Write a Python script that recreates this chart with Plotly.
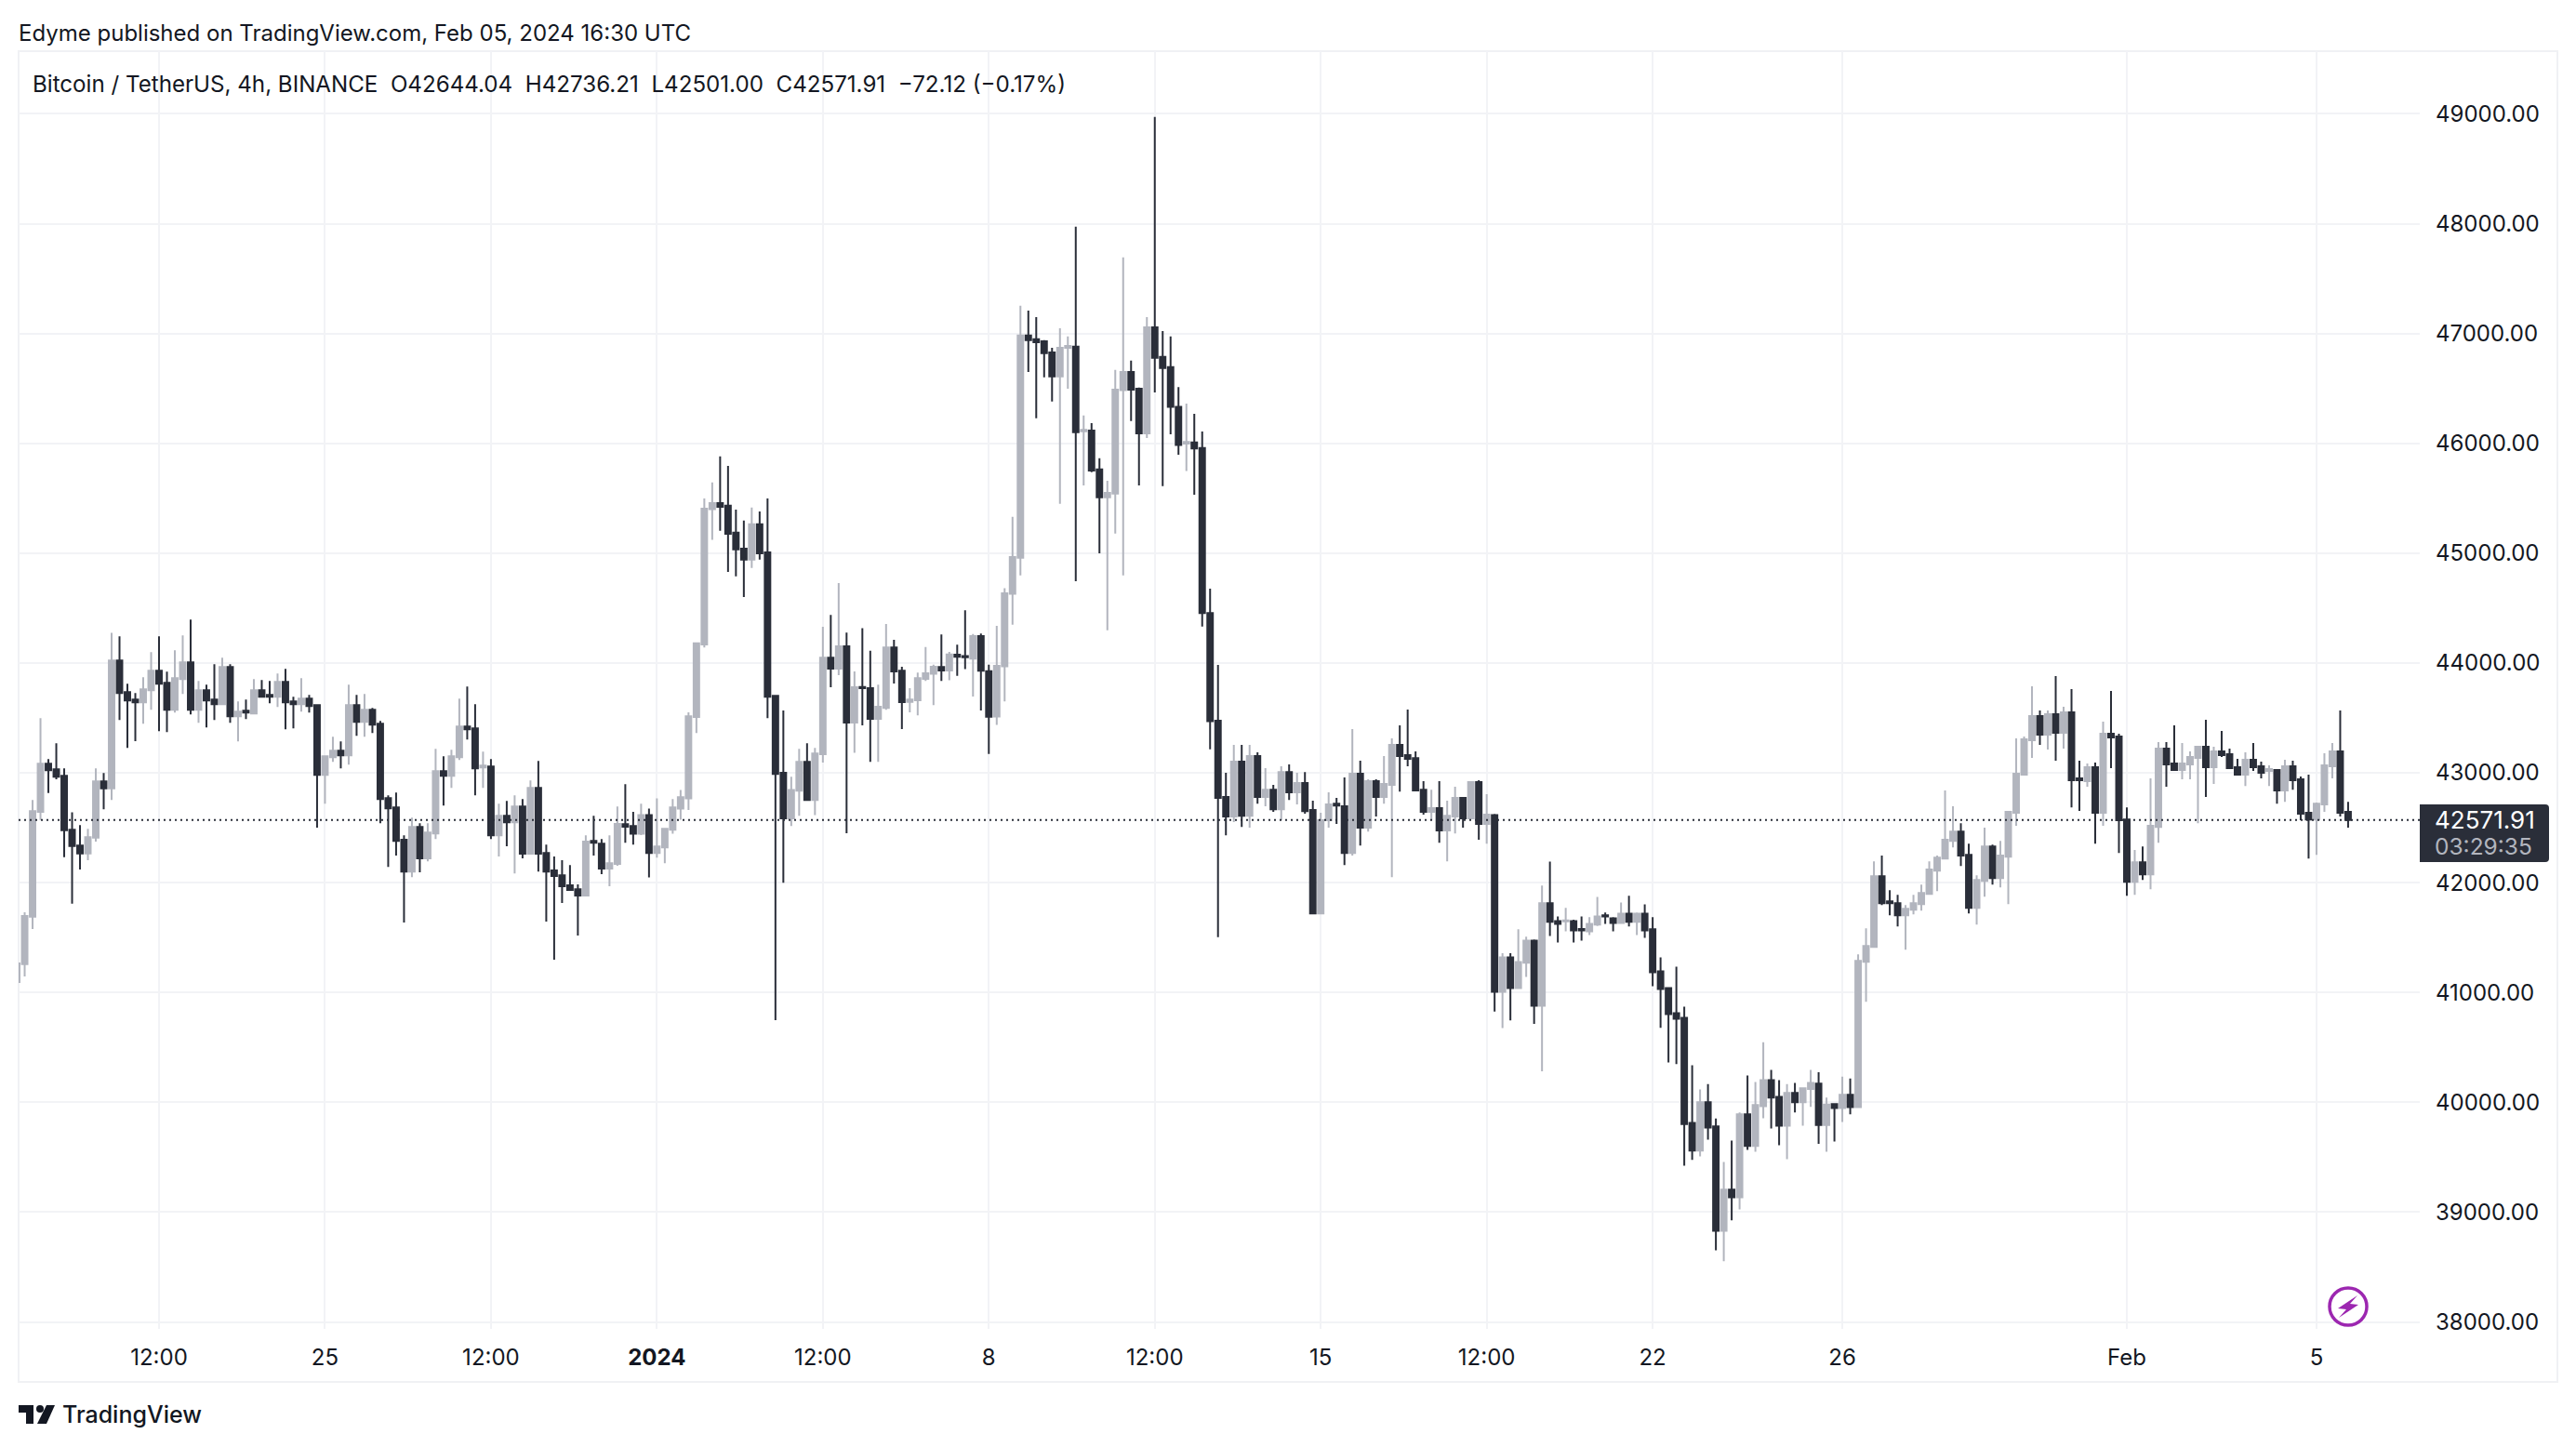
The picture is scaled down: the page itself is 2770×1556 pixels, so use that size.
from datetime import datetime, timedelta
import plotly.graph_objects as go

START = datetime(2023, 12, 18, 12, 0)
opens = [
41095,41259,41690,42646,43084,43033,42974,42483,42339,42266,
42410,42923,42858,44023,43735,43667,43642,43752,43930,43820,
43574,43853,44006,43574,43752,43667,43625,43963,43515,43566,
43540,43752,43710,43693,43828,43650,43625,43676,43616,42982,
43143,43202,43160,43616,43464,43574,43447,42770,42686,42390,
42102,42508,42221,42449,43016,42974,43143,43422,43405,43050,
43058,42432,42610,42550,42694,42263,42864,42271,42111,42068,
41975,41941,41882,42381,42356,42128,42170,42533,42516,42446,
42616,42270,42322,42481,42675,42768,43509,44170,45401,45457,
45432,45187,45041,44941,45263,45007,43702,43000,42585,42837,
43100,42754,43170,44048,43948,44152,43457,43782,43772,43491,
43592,44142,43931,43647,43661,43855,43903,43963,43933,44075,
44063,44041,44246,43925,43512,43970,44630,44958,46982,46948,
46929,46829,46609,46870,46881,46110,46117,45763,45509,45543,
46486,46650,46497,46091,47056,46788,46695,46333,45998,46009,
45957,44455,43475,42780,42602,43102,42610,43152,42780,42847,
42669,43008,42822,42907,42661,41720,42568,42720,42695,42271,
42992,42500,42924,42780,42890,43254,43161,43135,42847,42644,
42678,42475,42602,42771,42585,42915,42534,42616,41006,41320,
41041,41271,41472,40879,41812,41650,41647,41650,41579,41556,
41618,41702,41676,41634,41718,41644,41718,41576,41193,41041,
40811,40769,39813,39560,40001,39781,38831,39204,39136,39891,
39602,39965,40202,40050,39787,40085,40001,40121,40171,39794,
39983,39949,40068,39957,41280,41415,42059,41830,41813,41703,
41754,41805,41898,42110,42220,42381,42466,42254,41771,42017,
42330,42042,42237,42636,42983,43297,43517,43347,43534,43364,
43551,42949,42924,43051,42636,43356,43331,42576,42008,42186,
42076,42508,43220,43085,43025,43076,43136,43237,43051,43195,
43170,43051,42983,43119,43059,43017,43025,42839,43059,42941,
42636,42576,42712,43059,43195,42644.04]
highs = [
41265,41730,42754,43498,43126,43270,43041,42641,42525,42491,
43041,42999,44276,44243,43811,43726,43870,44099,44243,43921,
44116,44251,44395,43836,43803,43989,44048,43989,43650,43667,
43853,43845,43836,43904,43946,43693,43862,43710,43616,43160,
43329,43287,43803,43710,43718,43591,43473,42796,42821,42432,
42593,42542,42542,43219,43151,43210,43676,43786,43625,43193,
43126,42720,42745,42796,42762,42931,43109,42347,42238,42204,
42161,41984,42432,42610,42398,42432,42694,42896,42644,42720,
42675,42768,42498,42761,42844,43550,44187,45498,45644,45882,
45796,45398,45298,45415,45381,45498,43709,43568,42965,43218,
43270,43228,44329,44439,44727,44277,43924,44318,44111,43803,
44356,44211,43965,43772,43914,44145,43985,44261,44101,44168,
44481,44265,44268,43985,44339,44682,45331,47254,47209,47149,
46941,46870,47049,46974,47973,46255,46184,45864,45659,46669,
47693,46754,46508,47149,48972,47023,46974,46512,46363,46270,
46109,44678,43983,43000,43254,43254,43254,43186,43042,42890,
43059,43076,43000,43008,42746,42636,42822,42771,42958,43398,
43110,42941,42941,43152,43314,43432,43576,43195,42924,42847,
42924,42746,42873,42780,42924,42932,42805,42625,41357,41358,
41576,41508,41482,41974,42191,41692,41770,41663,41692,41686,
41870,41728,41686,41819,41880,41728,41802,41686,41320,41041,
41235,40872,40338,40118,40166,39852,39457,39651,39907,40244,
40186,40548,40296,40202,40166,40176,40134,40296,40274,40044,
39990,40234,40217,41347,41585,42195,42246,41932,41890,41797,
41890,41983,42195,42246,42839,42695,42542,42356,42068,42500,
42347,42381,42644,43314,43331,43788,43568,43568,43881,43602,
43763,43110,43085,43093,43466,43746,43356,42686,42297,42330,
42949,43280,43280,43432,43271,43195,43246,43483,43237,43381,
43220,43127,43186,43271,43102,43068,43030,43119,43110,42966,
42983,42729,43178,43271,43568,42736.21]
lows = [
41095,41146,41578,42570,42816,42942,42232,41809,42119,42204,
42373,42669,42754,43481,43227,43289,43447,43574,43380,43371,
43549,43718,43532,43456,43413,43481,43616,43456,43287,43490,
43540,43693,43633,43600,43397,43405,43557,43549,42500,42720,
43100,43041,43075,43337,43329,43363,42542,42144,42246,41637,
42051,42094,42195,42398,42703,42864,43117,43303,42796,42864,
42398,42238,42331,42085,42221,42263,42102,41645,41298,41815,
41933,41518,41882,42246,42077,41967,42153,42363,42346,42433,
42049,42228,42177,42446,42574,42661,43363,44142,45121,45204,
44830,44789,44602,44865,44941,43498,40748,42000,42516,42609,
42754,42616,43093,43779,43889,42450,43183,43433,43100,43100,
43574,43813,43398,43550,43523,43836,43616,43836,43843,43884,
43944,43694,43568,43173,43437,43650,44350,44798,46650,46229,
46601,46381,45450,46497,44745,45618,45737,44999,44298,45178,
44798,46203,45618,46050,46464,45610,46083,45897,45748,45532,
44332,43215,41503,42432,42551,42508,42500,42720,42695,42644,
42568,42754,42712,42627,41720,41712,42500,42534,42161,42246,
42339,42466,42602,42720,42051,42830,43059,42839,42619,42568,
42364,42195,42449,42500,42585,42390,42356,40827,40676,40746,
41031,41141,40714,40283,41514,41456,41556,41456,41472,41524,
41605,41624,41556,41634,41601,41524,41498,41057,40678,40364,
40348,39424,39476,39508,39661,38653,38553,38925,39026,39567,
39551,39855,39761,39609,39483,39907,39787,39959,39623,39550,
39643,39822,39890,39957,40915,41407,41797,41703,41602,41390,
41712,41746,41898,41924,42220,42322,42152,41720,41619,41873,
41983,41958,41805,42517,42983,43136,43254,43212,43110,43220,
42686,42653,42873,42356,42517,43042,42271,41881,41890,42025,
41941,42364,42873,43025,42941,42941,42542,42780,42898,43144,
43042,42975,42881,43017,42949,42881,42720,42737,42847,42568,
42220,42254,42644,42949,42602,42501.00]
closes = [
41265,41696,42652,43084,43024,42965,42477,42333,42266,42415,
42923,42858,44023,43726,43659,43642,43760,43930,43811,43574,
43862,44006,43574,43752,43659,43625,43963,43515,43557,43549,
43752,43693,43693,43828,43642,43625,43676,43608,42982,43151,
43202,43160,43616,43464,43574,43439,42762,42677,42381,42102,
42508,42221,42457,43016,42974,43151,43422,43397,43041,43067,
42432,42610,42550,42694,42263,42864,42263,42102,42060,41967,
41933,41882,42373,42364,42128,42178,42534,42509,42446,42616,
42270,42329,42491,42685,42779,43516,44180,45405,45457,45422,
45176,45035,44941,45263,45000,43692,42990,42585,42844,43100,
42754,43177,44048,43948,44152,43457,43779,43772,43491,43602,
44142,43924,43644,43668,43862,43907,43966,43933,44078,44056,
44052,44246,43929,43510,43974,44634,44965,46982,46941,46922,
46821,46609,46870,46888,46102,46124,45752,45509,45550,46490,
46650,46490,46091,47056,46780,46687,46333,45986,46013,45953,
44455,43471,42771,42602,43102,42610,43152,42780,42847,42669,
43008,42822,42907,42652,41720,42568,42712,42703,42271,42992,
42500,42924,42780,42898,43254,43152,43127,42839,42644,42678,
42475,42610,42771,42585,42915,42534,42619,41006,41319,41041,
41277,41472,40879,41812,41644,41624,41657,41566,41566,41624,
41692,41692,41634,41718,41644,41718,41566,41184,41031,40804,
40762,39803,39560,40001,39771,38831,39204,39136,39891,39602,
39975,40202,40043,39787,40085,40001,40127,40176,39794,39980,
39949,40068,39957,41288,41424,42059,41813,41813,41703,41763,
41813,41907,42119,42229,42390,42466,42246,41771,42025,42330,
42042,42246,42644,42992,43305,43517,43347,43534,43364,43551,
42932,42932,43051,42636,43356,43322,42568,42008,42186,42076,
42517,43220,43076,43025,43085,43144,43237,43051,43195,43161,
43042,42983,43119,43051,43000,43034,42839,43059,42932,42627,
42576,42720,43068,43195,42636,42571.91]

tick_dates = ["2023-12-21 12:00","2023-12-25","2023-12-28 12:00","2024-01-01","2024-01-04 12:00",
              "2024-01-08","2024-01-11 12:00","2024-01-15","2024-01-18 12:00","2024-01-22",
              "2024-01-26","2024-02-01","2024-02-05"]
tick_labels = ["12:00","25","12:00","<b>2024</b>","12:00","8","12:00","15","12:00","22","26","Feb","5"]
price_ticks = list(range(38000, 49001, 1000))

assert len(opens) == len(highs) == len(lows) == len(closes) == 296
times = [START + timedelta(hours=4 * i) for i in range(len(opens))]

W, H = 2770, 1556
L, R, T, B = 20, 2602, 55, 1429
FONT = "Inter"
DARK = "#2a2e39"
GRAY = "#b2b5be"
GRID = "#f2f3f6"
TEXT = "#131722"

def px(x): return (x - L) / (R - L)
def py(y): return (B - y) / (B - T)
def bar_at(x):  # pixel position to date, 8.498 px per 4 h bar, bar 18 at x=171
    return START + timedelta(hours=4 * ((x - 171) / 8.498 + 18))

def shape_path(points):
    return "M" + " L".join(f"{px(a):.6f},{py(b):.6f}" for a, b in points) + " Z"

fig = go.Figure(go.Candlestick(
    x=times, open=opens, high=highs, low=lows, close=closes,
    increasing=dict(line=dict(color=GRAY, width=2), fillcolor=GRAY),
    decreasing=dict(line=dict(color=DARK, width=2), fillcolor=DARK),
    whiskerwidth=0, showlegend=False, hoverinfo="skip",
))

shapes = [
    # outer frame
    dict(type="rect", xref="paper", yref="paper", x0=px(20), x1=px(2750), y0=py(55), y1=py(1486),
         line=dict(color="#f0f1f4", width=2), layer="below"),
    # last price line
    dict(type="line", xref="paper", yref="y", x0=0, x1=1, y0=closes[-1], y1=closes[-1],
         line=dict(color=DARK, width=2, dash="2px,4px")),
    # price label background
    dict(type="path", xref="paper", yref="paper", fillcolor=DARK, line=dict(width=0),
         path=f"M{px(2602):.6f},{py(865):.6f} L{px(2737):.6f},{py(865):.6f} "
              f"Q{px(2741):.6f},{py(865):.6f} {px(2741):.6f},{py(869):.6f} "
              f"L{px(2741):.6f},{py(923):.6f} Q{px(2741):.6f},{py(927):.6f} {px(2737):.6f},{py(927):.6f} "
              f"L{px(2602):.6f},{py(927):.6f} Z"),
    # bolt badge
    dict(type="circle", xref="paper", yref="paper", x0=px(2505), x1=px(2545), y0=py(1385), y1=py(1425),
         line=dict(color="#9c27b0", width=3.5), fillcolor="#ffffff"),
    dict(type="path", xref="paper", yref="paper", fillcolor="#9c27b0", line=dict(width=0),
         path=shape_path([(2535,1393),(2514,1407),(2523,1408),(2515,1417),(2536,1403),(2527,1402)])),
    # TradingView logo
    dict(type="path", xref="paper", yref="paper", fillcolor=TEXT, line=dict(width=0),
         path=shape_path([(20,1511),(36,1511),(36,1531),(28,1531),(28,1519),(20,1519)])),
    dict(type="circle", xref="paper", yref="paper", x0=px(39), x1=px(47), y0=py(1511), y1=py(1519),
         fillcolor=TEXT, line=dict(width=0)),
    dict(type="path", xref="paper", yref="paper", fillcolor=TEXT, line=dict(width=0),
         path=shape_path([(50,1511),(59,1511),(50,1531),(40,1531)])),
]

def note(x, y, text, size=24, color=TEXT, weight=None):
    return dict(xref="paper", yref="paper", x=px(x), y=py(y), xanchor="left", yanchor="middle",
                text=text, showarrow=False, font=dict(family=FONT, size=size, color=color, weight=weight))

annotations = [
    note(18, 35, "Edyme published on TradingView.com, Feb 05, 2024 16:30 UTC"),
    note(33, 90, "Bitcoin / TetherUS, 4h, BINANCE\u00a0\u00a0O42644.04\u00a0\u00a0H42736.21\u00a0\u00a0L42501.00\u00a0\u00a0C42571.91\u00a0\u00a0\u221272.12 (\u22120.17%)", size=24.15),
    note(2616, 881, f"{closes[-1]:.2f}", size=26, color="#ffffff"),
    note(2616, 910, "03:29:35", size=24.5, color=GRAY),
    note(65, 1521, "TradingView", size=25, weight=500),
]

fig.update_layout(
    width=W, height=H, autosize=False,
    margin=dict(l=L, r=W - R, t=T, b=H - B, pad=0),
    paper_bgcolor="#ffffff", plot_bgcolor="#ffffff",
    font=dict(family=FONT, size=24, color=TEXT),
    showlegend=False, shapes=shapes, annotations=annotations,
    boxgap=0.3, boxgroupgap=0,
    xaxis=dict(type="date", range=[bar_at(L), bar_at(R)], rangeslider=dict(visible=False),
               tickmode="array", tickvals=tick_dates, ticktext=tick_labels, tickangle=0,
               showgrid=True, gridcolor=GRID, gridwidth=2, zeroline=False, showline=False,
               ticks="", ticklabelstandoff=14),
    yaxis=dict(side="right", range=[37937, 49571.5], tickmode="array", tickvals=price_ticks,
               tickformat=".2f", showgrid=True, gridcolor=GRID, gridwidth=2, zeroline=False,
               showline=False, ticks="", ticklabelstandoff=16),
)

fig.write_html("out.html", config=dict(displayModeBar=False),
               post_script="document.body.style.margin='0';")
